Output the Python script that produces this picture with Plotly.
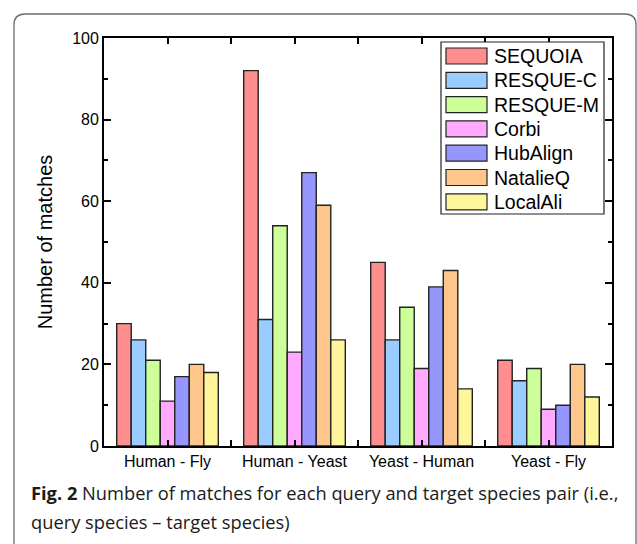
import plotly.graph_objects as go

# Species pairs (query - target)
categories = ["Human - Fly", "Human - Yeast", "Yeast - Human", "Yeast - Fly"]

# Number of matches per method
sequoia = [30, 92, 45, 21]
resque_c = [26, 31, 26, 16]
resque_m = [21, 54, 34, 19]
corbi = [11, 23, 19, 9]
hubalign = [17, 67, 39, 10]
natalieq = [20, 59, 43, 20]
localali = [18, 26, 14, 12]

methods = ["SEQUOIA", "RESQUE-C", "RESQUE-M", "Corbi", "HubAlign", "NatalieQ", "LocalAli"]
series = [sequoia, resque_c, resque_m, corbi, hubalign, natalieq, localali]
colors = ["#FF8F8F", "#99CCFF", "#CCFF99", "#FFAAFF", "#9696FF", "#FFC68C", "#FFF59B"]

W, H = 637, 544
L, R, T, B = 104, 25, 38, 98
PW, PH = W - L - R, H - T - B


def px(x):
    return (x - L) / PW


def py(y):
    return (H - B - y) / PH


xpos = list(range(len(categories)))

fig = go.Figure()
for name, vals, col in zip(methods, series, colors):
    fig.add_trace(go.Bar(
        x=xpos, y=vals, name=name,
        marker=dict(color=col, line=dict(color="#222222", width=1.4)),
        showlegend=False,
    ))

# ticks at group centres and group boundaries; labels only at centres
tickvals, ticktext = [], []
for i, c in enumerate(categories):
    tickvals += [i - 0.5, i]
    ticktext += ["", c]
tickvals.append(len(categories) - 0.5)
ticktext.append("")

shapes = []
annotations = []

# rounded card outline
r = 11
x0, x1, y0, y1 = 14, 636, 14, 600
path = (f"M {px(x0)},{py(y1)} L {px(x0)},{py(y0 + r)} "
        f"Q {px(x0)},{py(y0)} {px(x0 + r)},{py(y0)} "
        f"L {px(x1 - r)},{py(y0)} Q {px(x1)},{py(y0)} {px(x1)},{py(y0 + r)} "
        f"L {px(x1)},{py(y1)}")
shapes.append(dict(type="path", xref="paper", yref="paper", path=path,
                   line=dict(color="#6b6b6b", width=1.3), layer="below"))

# legend box
lx0, lx1, ly0, ly1 = 441, 604, 42, 214
shapes.append(dict(type="rect", xref="paper", yref="paper",
                   x0=px(lx0), x1=px(lx1), y0=py(ly1), y1=py(ly0),
                   line=dict(color="#222222", width=1.2), fillcolor="white"))
row0, step = 56, 24.3
for k, (name, col) in enumerate(zip(methods, colors)):
    cy = row0 + k * step
    shapes.append(dict(type="rect", xref="paper", yref="paper",
                       x0=px(446), x1=px(487), y0=py(cy + 8), y1=py(cy - 8),
                       line=dict(color="#222222", width=1.2), fillcolor=col))
    annotations.append(dict(xref="paper", yref="paper", x=px(492), y=py(cy),
                            xanchor="left", yanchor="middle", showarrow=False,
                            text=name, font=dict(family="Liberation Sans, Arial", size=19.5, color="black")))

# caption
cap_font = dict(family="Open Sans", size=18.3, color="#1a1a1a")
annotations.append(dict(xref="paper", yref="paper", x=px(29), y=py(492),
                        xanchor="left", yanchor="middle", showarrow=False,
                        text="<b>Fig. 2</b> Number of matches for each query and target species pair (i.e.,",
                        font=cap_font))
annotations.append(dict(xref="paper", yref="paper", x=px(29), y=py(521),
                        xanchor="left", yanchor="middle", showarrow=False,
                        text="query species – target species)", font=cap_font))

axis_font = dict(family="Liberation Sans, Arial", size=16, color="black")

fig.update_layout(
    width=W, height=H,
    margin=dict(l=L, r=R, t=T, b=B, pad=0),
    paper_bgcolor="white", plot_bgcolor="white",
    barmode="group", bargap=0.2, bargroupgap=0,
    showlegend=False,
    shapes=shapes, annotations=annotations,
    xaxis=dict(range=[-0.5, len(categories) - 0.5], tickmode="array",
               tickvals=tickvals, ticktext=ticktext,
               ticks="inside", ticklen=6, tickwidth=1.5, tickcolor="black",
               showline=True, linecolor="black", linewidth=1.8, mirror="ticks",
               showgrid=False, zeroline=False, tickfont=axis_font),
    yaxis=dict(range=[0, 100], dtick=20, ticks="inside", ticklen=7, tickwidth=1.5,
               tickcolor="black", showline=True, linecolor="black", linewidth=1.8,
               mirror="ticks", showgrid=False, zeroline=False, tickfont=axis_font,
               minor=dict(dtick=10, ticks="inside", ticklen=4, tickwidth=1.5, tickcolor="black"),
               title=dict(text="Number of matches", standoff=14,
                          font=dict(family="Liberation Sans, Arial", size=20, color="black"))),
)

fig.write_html("out.html")
